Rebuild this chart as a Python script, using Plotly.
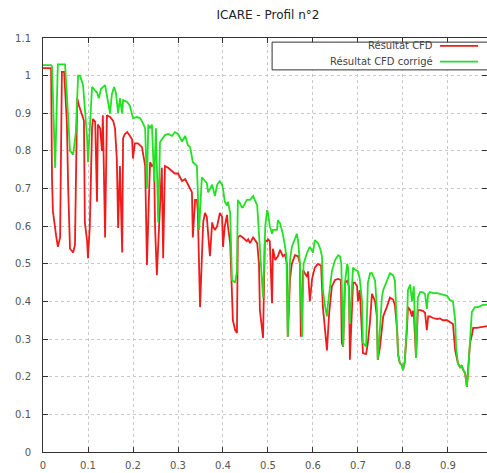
import plotly.graph_objects as go

title_text = "ICARE - Profil n°2"
series_names = ["Résultat CFD", "Résultat CFD corrigé"]
x_ticks = [0, 0.1, 0.2, 0.3, 0.4, 0.5, 0.6, 0.7, 0.8, 0.9]
x_tick_labels = ["0", "0.1", "0.2", "0.3", "0.4", "0.5", "0.6", "0.7", "0.8", "0.9"]
y_ticks = [0, 0.1, 0.2, 0.3, 0.4, 0.5, 0.6, 0.7, 0.8, 0.9, 1.0, 1.1]
y_tick_labels = ["0", "0.1", "0.2", "0.3", "0.4", "0.5", "0.6", "0.7", "0.8", "0.9", "1", "1.1"]

red_x = [0.000, 0.018, 0.020, 0.022, 0.029, 0.033, 0.038, 0.042, 0.047, 0.053, 0.056, 0.060, 0.067, 0.071,
         0.076, 0.080, 0.087, 0.091, 0.093, 0.098, 0.100, 0.104, 0.109, 0.111, 0.116, 0.120, 0.122, 0.127,
         0.131, 0.133, 0.138, 0.142, 0.149, 0.156, 0.160, 0.164, 0.167, 0.171, 0.176, 0.178, 0.182, 0.187,
         0.193, 0.198, 0.200, 0.204, 0.211, 0.220, 0.227, 0.231, 0.236, 0.238, 0.242, 0.247, 0.249, 0.253,
         0.258, 0.264, 0.267, 0.271, 0.278, 0.287, 0.293, 0.300, 0.309, 0.316, 0.322, 0.327, 0.331, 0.333,
         0.338, 0.342, 0.344, 0.349, 0.356, 0.360, 0.364, 0.371, 0.376, 0.378, 0.382, 0.387, 0.389, 0.393,
         0.398, 0.400, 0.404, 0.409, 0.411, 0.416, 0.422, 0.427, 0.431, 0.433, 0.438, 0.444, 0.453, 0.456,
         0.460, 0.467, 0.476, 0.480, 0.482, 0.489, 0.493, 0.498, 0.500, 0.504, 0.509, 0.511, 0.516, 0.522,
         0.527, 0.531, 0.533, 0.538, 0.542, 0.544, 0.549, 0.553, 0.560, 0.567, 0.571, 0.573, 0.578, 0.587,
         0.589, 0.593, 0.598, 0.604, 0.611, 0.618, 0.622, 0.629, 0.631, 0.636, 0.638, 0.642, 0.649, 0.656,
         0.662, 0.664, 0.667, 0.671, 0.676, 0.680, 0.682, 0.687, 0.689, 0.693, 0.698, 0.700, 0.704, 0.711,
         0.718, 0.722, 0.727, 0.731, 0.733, 0.738, 0.742, 0.744, 0.749, 0.753, 0.756, 0.764, 0.771, 0.778,
         0.782, 0.787, 0.789, 0.793, 0.798, 0.800, 0.804, 0.809, 0.811, 0.816, 0.820, 0.822, 0.824, 0.829,
         0.833, 0.838, 0.844, 0.849, 0.853, 0.856, 0.860, 0.867, 0.876, 0.882, 0.889, 0.898, 0.904, 0.911,
         0.916, 0.918, 0.922, 0.927, 0.931, 0.933, 0.938, 0.942, 0.944, 0.949, 0.953, 0.956, 0.964, 0.976,
         0.987, 1.000]
red_y = [1.02, 1.02, 0.73, 0.64, 0.576, 0.545, 0.57, 1.01, 1.01, 0.877, 0.70, 0.54, 0.53, 0.55,
         0.94, 0.92, 0.895, 0.88, 0.61, 0.56, 0.515, 0.60, 0.86, 0.885, 0.877, 0.665, 0.87, 0.86,
         0.80, 0.895, 0.57, 0.895, 0.89, 0.88, 0.86, 0.78, 0.595, 0.76, 0.53, 0.834, 0.845, 0.85,
         0.84, 0.83, 0.78, 0.82, 0.82, 0.81, 0.76, 0.497, 0.70, 0.77, 0.76, 0.765, 0.60, 0.47,
         0.60, 0.755, 0.515, 0.76, 0.755, 0.745, 0.74, 0.74, 0.72, 0.725, 0.71, 0.70, 0.69, 0.57,
         0.67, 0.67, 0.64, 0.385, 0.61, 0.635, 0.625, 0.52, 0.61, 0.60, 0.59, 0.60, 0.615, 0.635,
         0.625, 0.545, 0.60, 0.63, 0.60, 0.555, 0.35, 0.324, 0.316, 0.57, 0.575, 0.57, 0.56, 0.565,
         0.555, 0.57, 0.555, 0.50, 0.377, 0.303, 0.563, 0.56, 0.565, 0.56, 0.395, 0.54, 0.51, 0.52,
         0.537, 0.527, 0.52, 0.525, 0.50, 0.306, 0.46, 0.50, 0.523, 0.52, 0.50, 0.306, 0.483, 0.465,
         0.48, 0.40, 0.46, 0.49, 0.50, 0.495, 0.385, 0.297, 0.27, 0.37, 0.40, 0.44, 0.457, 0.46,
         0.457, 0.29, 0.28, 0.45, 0.455, 0.44, 0.245, 0.43, 0.45, 0.45, 0.44, 0.40, 0.43, 0.263,
         0.26, 0.29, 0.35, 0.42, 0.415, 0.40, 0.36, 0.245, 0.28, 0.33, 0.36, 0.385, 0.41, 0.405,
         0.39, 0.324, 0.26, 0.236, 0.23, 0.218, 0.24, 0.33, 0.385, 0.377, 0.36, 0.375, 0.37, 0.25,
         0.377, 0.377, 0.375, 0.37, 0.324, 0.36, 0.36, 0.356, 0.353, 0.355, 0.35, 0.35, 0.346, 0.34,
         0.27, 0.26, 0.236, 0.225, 0.23, 0.22, 0.21, 0.173, 0.20, 0.29, 0.31, 0.33, 0.33, 0.333,
         0.336, 0.337]

green_x = [0.000, 0.018, 0.020, 0.027, 0.033, 0.049, 0.053, 0.060, 0.067, 0.073, 0.078, 0.082, 0.089,
           0.098, 0.100, 0.109, 0.116, 0.120, 0.124, 0.129, 0.138, 0.142, 0.149, 0.153, 0.158, 0.162,
           0.164, 0.167, 0.171, 0.176, 0.178, 0.187, 0.193, 0.200, 0.209, 0.216, 0.222, 0.227, 0.231,
           0.234, 0.238, 0.242, 0.247, 0.251, 0.256, 0.260, 0.264, 0.271, 0.278, 0.287, 0.293, 0.300,
           0.309, 0.316, 0.322, 0.327, 0.333, 0.338, 0.342, 0.347, 0.353, 0.360, 0.364, 0.367, 0.371,
           0.376, 0.378, 0.382, 0.387, 0.393, 0.398, 0.400, 0.404, 0.409, 0.411, 0.416, 0.420, 0.427,
           0.431, 0.433, 0.438, 0.442, 0.444, 0.453, 0.460, 0.467, 0.476, 0.478, 0.484, 0.489, 0.494,
           0.498, 0.500, 0.504, 0.509, 0.511, 0.520, 0.522, 0.527, 0.533, 0.538, 0.541, 0.544, 0.549,
           0.553, 0.560, 0.564, 0.567, 0.571, 0.576, 0.579, 0.587, 0.593, 0.600, 0.604, 0.611, 0.616,
           0.620, 0.622, 0.627, 0.631, 0.633, 0.638, 0.642, 0.649, 0.656, 0.660, 0.663, 0.667, 0.671,
           0.676, 0.678, 0.682, 0.687, 0.689, 0.693, 0.698, 0.700, 0.704, 0.709, 0.711, 0.718, 0.722,
           0.727, 0.731, 0.733, 0.738, 0.742, 0.744, 0.749, 0.753, 0.756, 0.764, 0.771, 0.778, 0.782,
           0.787, 0.789, 0.793, 0.798, 0.800, 0.804, 0.809, 0.811, 0.816, 0.820, 0.824, 0.829, 0.833,
           0.838, 0.844, 0.849, 0.853, 0.856, 0.860, 0.867, 0.876, 0.882, 0.889, 0.898, 0.904, 0.911,
           0.916, 0.918, 0.922, 0.927, 0.931, 0.933, 0.938, 0.942, 0.944, 0.949, 0.953, 0.960, 0.967,
           0.976, 0.987, 1.000]
green_y = [1.028, 1.028, 1.025, 0.755, 1.03, 1.03, 0.95, 0.80, 0.79, 0.85, 1.0, 1.0, 0.975,
           0.835, 0.77, 0.97, 0.96, 0.955, 0.94, 0.965, 0.975, 0.95, 0.90, 0.95, 0.97, 0.955,
           0.93, 0.90, 0.94, 0.90, 0.935, 0.93, 0.92, 0.887, 0.89, 0.887, 0.874, 0.86, 0.70,
           0.87, 0.86, 0.87, 0.72, 0.86, 0.61, 0.823, 0.83, 0.842, 0.845, 0.84, 0.85, 0.845,
           0.825, 0.84, 0.815, 0.81, 0.77, 0.765, 0.76, 0.59, 0.73, 0.72, 0.715, 0.69, 0.70,
           0.71, 0.70, 0.68, 0.71, 0.72, 0.71, 0.70, 0.665, 0.655, 0.665, 0.635, 0.457, 0.45,
           0.48, 0.67, 0.66, 0.65, 0.65, 0.67, 0.67, 0.68, 0.655, 0.615, 0.50, 0.41, 0.60,
           0.643, 0.635, 0.60, 0.58, 0.59, 0.59, 0.616, 0.607, 0.58, 0.545, 0.52, 0.306, 0.51,
           0.545, 0.57, 0.58, 0.56, 0.50, 0.306, 0.50, 0.53, 0.545, 0.53, 0.563, 0.555, 0.54,
           0.52, 0.43, 0.386, 0.36, 0.39, 0.44, 0.48, 0.51, 0.523, 0.52, 0.50, 0.28, 0.45,
           0.50, 0.49, 0.34, 0.45, 0.49, 0.485, 0.48, 0.48, 0.46, 0.40, 0.29, 0.28, 0.45,
           0.475, 0.475, 0.47, 0.455, 0.38, 0.245, 0.33, 0.41, 0.43, 0.457, 0.475, 0.47, 0.455,
           0.324, 0.26, 0.236, 0.23, 0.218, 0.24, 0.35, 0.43, 0.445, 0.40, 0.44, 0.25, 0.41,
           0.425, 0.425, 0.42, 0.38, 0.42, 0.425, 0.422, 0.422, 0.42, 0.417, 0.415, 0.404, 0.40,
           0.35, 0.28, 0.236, 0.225, 0.23, 0.22, 0.21, 0.173, 0.20, 0.316, 0.372, 0.385, 0.385,
           0.39, 0.392, 0.393]

red_color = "#ee1c1c"
green_color = "#22e022"
font_family = "DejaVu Sans, Liberation Sans, sans-serif"

fig = go.Figure()
fig.add_trace(go.Scatter(x=red_x, y=red_y, mode="lines", name=series_names[0],
                         line=dict(color=red_color, width=1.8), showlegend=False))
fig.add_trace(go.Scatter(x=green_x, y=green_y, mode="lines", name=series_names[1],
                         line=dict(color=green_color, width=1.8), showlegend=False))

axis_common = dict(showline=True, linecolor="#333333", linewidth=1, mirror="ticks",
                   ticks="inside", ticklen=5, tickcolor="#333333", showgrid=True,
                   gridcolor="#c8c8c8", griddash="dot", gridwidth=1, zeroline=False,
                   tickfont=dict(family=font_family, size=10, color="#555555"))

fig.update_xaxes(range=[0, 0.9867], tickvals=x_ticks, ticktext=x_tick_labels,
                 ticklabelstandoff=4, **axis_common)
fig.update_yaxes(range=[0, 1.1], tickvals=y_ticks, ticktext=y_tick_labels,
                 ticklabelstandoff=9, **axis_common)

# custom legend (text on the left, line sample on the right, as in the reference)
legend_box = dict(type="rect", xref="paper", yref="paper", x0=0.516, x1=1.02, y0=0.923, y1=0.990,
                  line=dict(color="#333333", width=1), fillcolor="white", layer="above")
shapes = [legend_box]
annotations = []
for name, color, yy in [(series_names[0], red_color, 0.981), (series_names[1], green_color, 0.943)]:
    shapes.append(dict(type="line", xref="paper", yref="paper", x0=0.894, x1=0.980, y0=yy, y1=yy,
                       line=dict(color=color, width=1.8), layer="above"))
    annotations.append(dict(text=name, xref="paper", yref="paper", x=0.883, y=yy, xanchor="right",
                            yanchor="middle", showarrow=False,
                            font=dict(family=font_family, size=10, color="#444444")))

fig.update_layout(
    width=487, height=473,
    margin=dict(l=43, r=0, t=38, b=21),
    paper_bgcolor="white", plot_bgcolor="white",
    title=dict(text=title_text, x=268 / 487, xref="container", xanchor="center",
               y=1 - 15 / 473, yref="container", yanchor="middle",
               font=dict(family=font_family, size=12, color="#222222")),
    shapes=shapes, annotations=annotations,
    showlegend=False,
)

fig.write_html("out.html")
